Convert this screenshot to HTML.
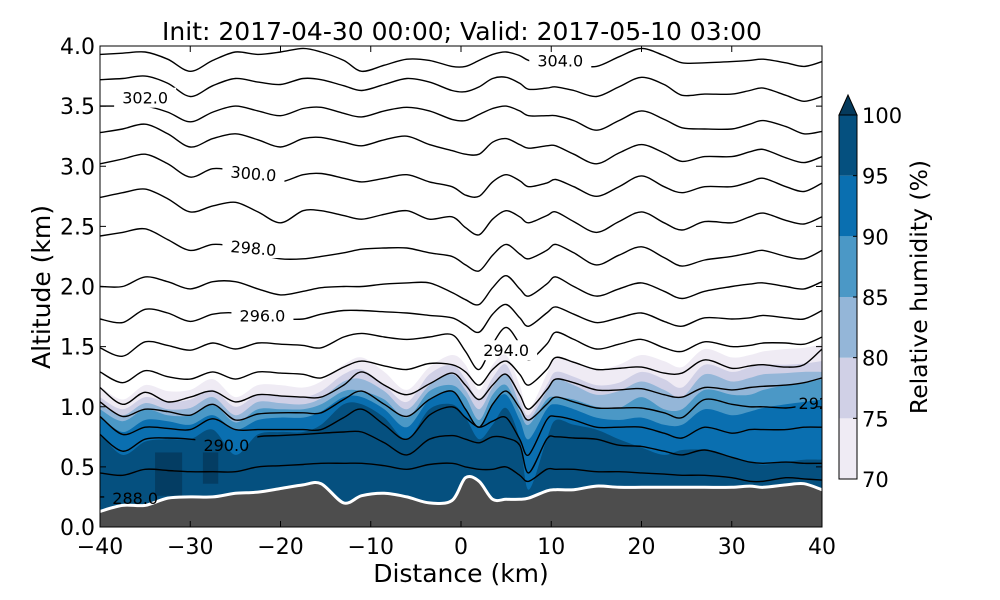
<!DOCTYPE html>
<html><head><meta charset="utf-8"><style>
html,body{margin:0;padding:0;background:#fff;}
svg{display:block;font-family:"DejaVu Sans","Liberation Sans",sans-serif;}
</style></head><body>
<svg id="chart" width="1000" height="600" viewBox="0 0 1000 600" xmlns="http://www.w3.org/2000/svg">
<defs>
<clipPath id="plotclip"><rect x="100" y="46" width="722" height="481"/></clipPath>
<mask id="labelmask" maskUnits="userSpaceOnUse" x="0" y="0" width="1000" height="600"><rect id="maskbg" x="0" y="0" width="1000" height="600" fill="#fff"/></mask>
</defs>
<rect x="0" y="0" width="1000" height="600" fill="#fff"/>
<text x="462" y="40" text-anchor="middle" font-size="25">Init: 2017-04-30 00:00; Valid: 2017-05-10 03:00</text>
<g id="plot" clip-path="url(#plotclip)">
  <g id="rh"></g>
  <g id="shadows"></g>
  <g id="lines" mask="url(#labelmask)"></g>
  <g id="terrain"></g>
  <g id="labels"></g>
</g>
<rect x="100" y="46" width="722" height="481" fill="none" stroke="#000" stroke-width="1"/>
<g id="xaxis"></g>
<g id="yaxis"></g>
<text x="461" y="582" text-anchor="middle" font-size="25">Distance (km)</text>
<text transform="translate(50,287) rotate(-90)" text-anchor="middle" font-size="25">Altitude (km)</text>
<g id="cbar"></g>
<text transform="translate(927,287) rotate(-90)" text-anchor="middle" font-size="23.5">Relative humidity (%)</text>
</svg>
<script>
const dist = [-40,-37.5,-35,-32.5,-30,-27.5,-25,-22.5,-20,-17.5,-15.5,-13,-11,-8.5,-6,-3.5,-1,0.5,2,3.5,5,6.5,7.5,9.5,10.5,12.5,15,17.5,20,22.5,24.5,27,30,32,33.5,36,38,40];
const terrainAlt = [0.13,0.18,0.18,0.24,0.25,0.25,0.28,0.29,0.32,0.35,0.36,0.20,0.26,0.28,0.25,0.20,0.22,0.41,0.38,0.23,0.23,0.23,0.24,0.30,0.31,0.31,0.34,0.33,0.33,0.33,0.33,0.33,0.33,0.34,0.33,0.35,0.36,0.31];
const th304 = [3.93,3.94,3.95,3.89,3.79,3.88,3.95,3.93,3.95,3.98,3.95,3.88,3.79,3.84,3.89,3.88,3.83,3.83,3.88,3.93,3.95,3.92,3.88,3.85,3.83,3.84,3.83,3.91,3.98,3.92,3.86,3.86,3.87,3.88,3.89,3.86,3.83,3.87];
const th303 = [3.72,3.73,3.75,3.69,3.58,3.67,3.73,3.70,3.68,3.73,3.72,3.67,3.63,3.68,3.73,3.70,3.63,3.62,3.66,3.73,3.74,3.69,3.64,3.65,3.66,3.63,3.58,3.66,3.74,3.68,3.59,3.60,3.60,3.63,3.65,3.59,3.54,3.58];
const th302 = [3.50,3.50,3.50,3.45,3.37,3.45,3.50,3.46,3.42,3.48,3.49,3.44,3.41,3.46,3.49,3.46,3.39,3.38,3.43,3.48,3.50,3.46,3.42,3.42,3.42,3.38,3.30,3.38,3.46,3.39,3.32,3.31,3.31,3.35,3.38,3.33,3.27,3.29];
const th301 = [3.28,3.31,3.35,3.27,3.16,3.23,3.27,3.22,3.16,3.23,3.24,3.20,3.17,3.22,3.25,3.18,3.13,3.10,3.10,3.20,3.23,3.18,3.15,3.17,3.17,3.10,3.02,3.11,3.18,3.11,3.04,3.08,3.08,3.12,3.14,3.07,3.03,3.08];
const th300 = [3.02,3.06,3.10,3.02,2.91,2.98,2.96,2.91,2.87,2.93,2.94,2.90,2.87,2.90,2.93,2.87,2.83,2.76,2.75,2.87,2.93,2.88,2.83,2.86,2.89,2.83,2.75,2.83,2.92,2.83,2.78,2.83,2.83,2.87,2.90,2.83,2.79,2.86];
const th299 = [2.74,2.78,2.81,2.73,2.62,2.67,2.70,2.62,2.53,2.63,2.63,2.59,2.56,2.60,2.63,2.56,2.58,2.49,2.43,2.56,2.63,2.58,2.53,2.59,2.62,2.54,2.45,2.54,2.62,2.53,2.47,2.54,2.53,2.58,2.61,2.55,2.52,2.58];
const th298 = [2.42,2.45,2.48,2.39,2.30,2.35,2.33,2.27,2.23,2.23,2.25,2.28,2.31,2.32,2.32,2.28,2.25,2.18,2.13,2.26,2.35,2.27,2.23,2.30,2.35,2.28,2.18,2.26,2.33,2.24,2.17,2.22,2.25,2.28,2.30,2.25,2.23,2.30];
const th297 = [2.00,2.00,2.08,2.04,1.98,2.04,2.04,1.98,1.93,1.96,1.99,2.00,2.00,2.02,2.03,2.03,1.95,1.89,1.85,1.99,2.09,1.98,1.92,2.02,2.08,2.00,1.92,1.98,2.03,1.96,1.90,1.96,2.00,2.02,2.03,2.00,1.98,2.04];
const th296 = [1.73,1.70,1.81,1.78,1.71,1.77,1.78,1.74,1.73,1.73,1.77,1.80,1.80,1.79,1.78,1.76,1.74,1.68,1.62,1.77,1.85,1.74,1.67,1.78,1.83,1.77,1.70,1.74,1.78,1.71,1.67,1.74,1.73,1.74,1.76,1.74,1.73,1.80];
const th295 = [1.49,1.42,1.54,1.51,1.47,1.53,1.48,1.53,1.52,1.51,1.49,1.58,1.61,1.58,1.56,1.58,1.60,1.46,1.31,1.52,1.66,1.52,1.39,1.52,1.62,1.56,1.48,1.52,1.56,1.49,1.46,1.54,1.50,1.51,1.53,1.53,1.52,1.58];
const th294 = [1.29,1.20,1.30,1.25,1.23,1.29,1.23,1.29,1.28,1.27,1.24,1.33,1.38,1.34,1.31,1.36,1.35,1.29,1.18,1.31,1.38,1.27,1.18,1.31,1.41,1.37,1.31,1.32,1.33,1.28,1.28,1.39,1.32,1.34,1.35,1.33,1.35,1.48];
const th293 = [1.16,1.02,1.12,1.04,1.08,1.13,1.04,1.10,1.09,1.08,1.08,1.18,1.29,1.18,1.10,1.19,1.28,1.18,1.06,1.18,1.27,1.10,0.98,1.14,1.23,1.20,1.14,1.14,1.15,1.10,1.08,1.16,1.14,1.16,1.17,1.18,1.20,1.24];
const th292 = [1.04,0.92,0.98,0.96,0.93,1.02,0.89,0.94,0.95,0.95,0.95,1.06,1.13,1.02,0.92,1.06,1.13,0.98,0.83,1.02,1.13,0.99,0.89,1.02,1.08,1.04,0.99,0.99,0.99,0.95,0.91,1.06,1.02,1.00,1.00,0.99,1.01,1.03];
const th291 = [0.92,0.77,0.83,0.82,0.81,0.90,0.81,0.81,0.81,0.81,0.81,0.91,0.98,0.85,0.73,0.93,1.00,0.91,0.83,0.88,0.91,0.73,0.60,0.89,0.92,0.89,0.83,0.83,0.83,0.78,0.74,0.83,0.78,0.81,0.81,0.81,0.83,0.83];
const th290 = [0.77,0.63,0.73,0.74,0.73,0.71,0.68,0.75,0.76,0.77,0.78,0.79,0.79,0.70,0.60,0.73,0.76,0.73,0.70,0.75,0.74,0.68,0.45,0.73,0.75,0.74,0.73,0.68,0.67,0.63,0.60,0.64,0.58,0.54,0.53,0.54,0.53,0.53];
const th289 = [0.45,0.43,0.48,0.47,0.46,0.46,0.46,0.50,0.51,0.52,0.53,0.53,0.53,0.51,0.48,0.52,0.53,0.50,0.48,0.48,0.50,0.43,0.38,0.48,0.48,0.48,0.46,0.46,0.45,0.44,0.43,0.43,0.41,0.38,0.38,0.41,0.40,0.39];
const th288 = [0.25,0.25,0.25,0.24,0.22,0.20,0.20,0.20,0.20,0.20,0.20,0.15,0.15,0.15,0.15,0.15,0.15,0.15,0.15,0.15,0.15,0.15,0.15,0.15,0.15,0.15,0.15,0.15,0.15,0.15,0.15,0.15,0.15,0.15,0.15,0.15,0.15,0.15];
const rh70 = [1.17,1.06,1.18,1.13,1.14,1.23,1.08,1.18,1.18,1.16,1.21,1.35,1.41,1.29,1.14,1.33,1.43,1.35,1.14,1.35,1.43,1.18,0.98,1.27,1.41,1.38,1.31,1.35,1.43,1.38,1.33,1.48,1.41,1.43,1.46,1.48,1.49,1.52];
const rh75 = [1.08,0.98,1.08,1.04,1.06,1.14,1.00,1.10,1.09,1.08,1.13,1.27,1.31,1.18,1.04,1.27,1.35,1.23,1.06,1.24,1.35,1.08,0.93,1.18,1.29,1.25,1.18,1.20,1.29,1.23,1.16,1.35,1.29,1.33,1.35,1.35,1.36,1.38];
const rh80 = [1.02,0.93,1.03,0.98,0.99,1.08,0.93,1.04,1.03,1.02,1.07,1.21,1.23,1.13,0.98,1.18,1.27,1.14,0.98,1.16,1.27,1.02,0.89,1.13,1.23,1.18,1.10,1.13,1.21,1.14,1.08,1.27,1.21,1.24,1.27,1.28,1.29,1.29];
const rh85 = [0.98,0.88,0.98,0.93,0.93,1.02,0.87,0.98,0.98,0.98,1.02,1.13,1.13,1.06,0.91,1.13,1.18,1.08,0.89,1.10,1.18,0.96,0.85,1.06,1.08,1.06,1.00,0.99,1.08,0.98,0.98,1.14,1.10,1.10,1.14,1.18,1.20,1.23];
const rh90 = [0.92,0.79,0.89,0.88,0.85,0.93,0.81,0.89,0.91,0.91,0.96,1.08,1.08,0.98,0.83,1.06,1.13,0.99,0.83,1.02,1.10,0.89,0.73,0.98,1.02,0.98,0.91,0.89,0.91,0.85,0.85,0.98,0.93,0.96,0.99,1.02,1.04,1.06];
const rh95 = [0.78,0.60,0.71,0.73,0.73,0.81,0.60,0.77,0.79,0.79,0.85,1.02,1.02,0.91,0.73,0.98,1.02,0.91,0.73,0.85,0.99,0.73,0.31,0.73,0.89,0.85,0.81,0.73,0.66,0.60,0.64,0.64,0.58,0.54,0.52,0.54,0.56,0.56];
const rhLevels = [70,75,80,85,90,95];
const rhColors = ['#efebf4','#d0d0e6','#94b6d8','#4b98c6','#0a6fb0','#05507f'];
const labelText = ['304.0','302.0','300.0','298.0','296.0','294.0','292.0','290.0','288.0'];
const labelDist = [11.0,-35.0,-23.0,-23.0,-22.0,5.0,37.4,-26.0,-36.1];
const labelAlt = [3.88,3.57,2.94,2.32,1.76,1.47,1.03,0.68,0.24];
const xTicks = [-40,-30,-20,-10,0,10,20,30,40];
const yTicks = [0,0.5,1,1.5,2,2.5,3,3.5,4];
const cbTicks = [70,75,80,85,90,95,100];
const patchDist = [[-33.9,-30.9],[-28.6,-26.9]];
const patchAlt = [[0.26,0.62],[0.36,0.62]];

const NS = 'http://www.w3.org/2000/svg';
const xPx = d => 100 + (d + 40) * 722 / 80;
const yPx = a => 527 - a * 481 / 4;
const cbY = v => 479 - (v - 70) * 364 / 30;
function mk(tag, attrs, parent){const e=document.createElementNS(NS,tag);for(const k in attrs)e.setAttribute(k,attrs[k]);parent.appendChild(e);return e;}
function smooth(arr){
  const P = arr.map((a,i)=>[xPx(dist[i]), yPx(a)]);
  let d = 'M'+P[0][0].toFixed(1)+','+P[0][1].toFixed(1);
  const t = 0.16;
  for(let i=0;i<P.length-1;i++){
    const p0=P[Math.max(i-1,0)], p1=P[i], p2=P[i+1], p3=P[Math.min(i+2,P.length-1)];
    const c1=[p1[0]+(p2[0]-p0[0])*t, p1[1]+(p2[1]-p0[1])*t];
    const c2=[p2[0]-(p3[0]-p1[0])*t, p2[1]-(p3[1]-p1[1])*t];
    d += ' C'+c1[0].toFixed(1)+','+c1[1].toFixed(1)+' '+c2[0].toFixed(1)+','+c2[1].toFixed(1)+' '+p2[0].toFixed(1)+','+p2[1].toFixed(1);
  }
  return d;
}
const closeDown = ' L'+xPx(40)+','+yPx(-0.2)+' L'+xPx(-40)+','+yPx(-0.2)+' Z';

const rhG = document.getElementById('rh');
[rh70,rh75,rh80,rh85,rh90,rh95].forEach((arr,k)=>{
  const p = mk('path',{d: smooth(arr)+closeDown, fill: rhColors[k]}, rhG);
  
  
});
const shG = document.getElementById('shadows');
patchDist.forEach((pd,i)=>{
  const r = mk('rect',{x:xPx(pd[0]),y:yPx(patchAlt[i][1]),width:xPx(pd[1])-xPx(pd[0]),height:yPx(patchAlt[i][0])-yPx(patchAlt[i][1]),fill:'#043d63'}, shG);
  
  
});

const mask = document.getElementById('labelmask');
labelText.forEach((t,i)=>{
  const cx = xPx(labelDist[i]), cy = yPx(labelAlt[i]);
  const anchorStart = i===6;
  const x0 = anchorStart ? cx-3 : cx-31, w = anchorStart ? 60 : 62;
  mk('rect',{x:x0,y:cy-10,width:w,height:20,fill:'#000'}, mask);
});

const linesG = document.getElementById('lines');
const thetas = [304,303,302,301,300,299,298,297,296,295,294,293,292,291,290,289,288];
[th304,th303,th302,th301,th300,th299,th298,th297,th296,th295,th294,th293,th292,th291,th290,th289,th288].forEach((arr,k)=>{
  const pl = mk('path',{d: smooth(arr), fill:'none', stroke:'#000', 'stroke-width':1.4, 'stroke-linejoin':'round'}, linesG);
  
  
});

const tG = document.getElementById('terrain');
const tp = mk('path',{d: smooth(terrainAlt)+closeDown, fill:'#4d4d4d'}, tG);


const tl = mk('path',{d: smooth(terrainAlt), fill:'none', stroke:'#fff', 'stroke-width':3}, tG);



const lG = document.getElementById('labels');
labelText.forEach((t,i)=>{
  const cx = xPx(labelDist[i]), cy = yPx(labelAlt[i]);
  const rot = (i===2||i===3) ? 5 : 0;
  const tx = mk('text',{x:cx, y:cy+6, 'text-anchor': i===6?'start':'middle', 'font-size':16, fill:'#000', transform:'rotate('+rot+' '+cx+' '+cy+')'}, lG);
  tx.textContent = t;
  
  
});

const xa = document.getElementById('xaxis');
xTicks.forEach(v=>{
  const x = xPx(v);
  mk('line',{x1:x,y1:527,x2:x,y2:521,stroke:'#000','stroke-width':1},xa);
  mk('line',{x1:x,y1:46,x2:x,y2:52,stroke:'#000','stroke-width':1},xa);
  const t = mk('text',{x:x,y:554,'text-anchor':'middle','font-size':22},xa);
  t.textContent = v<0 ? '\u2212'+Math.abs(v) : String(v);
  
  
});
const ya = document.getElementById('yaxis');
yTicks.forEach(v=>{
  const y = yPx(v);
  mk('line',{x1:100,y1:y,x2:106,y2:y,stroke:'#000','stroke-width':1},ya);
  mk('line',{x1:822,y1:y,x2:816,y2:y,stroke:'#000','stroke-width':1},ya);
  const t = mk('text',{x:95,y:y+8,'text-anchor':'end','font-size':22},ya);
  t.textContent = v.toFixed(1);
  
  
});

const cb = document.getElementById('cbar');
rhColors.forEach((c,k)=>{
  const r = mk('rect',{x:839,y:cbY(rhLevels[k]+5),width:18,height:cbY(rhLevels[k])-cbY(rhLevels[k]+5),fill:c},cb);
  
  
});
const tri = mk('polygon',{points:'839,'+cbY(100)+' 848,95 857,'+cbY(100),fill:'#053a5c',stroke:'#000','stroke-width':1},cb);


mk('rect',{x:839,y:cbY(100),width:18,height:cbY(70)-cbY(100),fill:'none',stroke:'#000','stroke-width':1},cb);
cbTicks.forEach(v=>{
  const y = cbY(v);
  mk('line',{x1:857,y1:y,x2:853,y2:y,stroke:'#000','stroke-width':1},cb);
  const t = mk('text',{x:862,y:y+8,'font-size':21},cb);
  t.textContent = String(v);
  
  
});
</script>
</body></html>
